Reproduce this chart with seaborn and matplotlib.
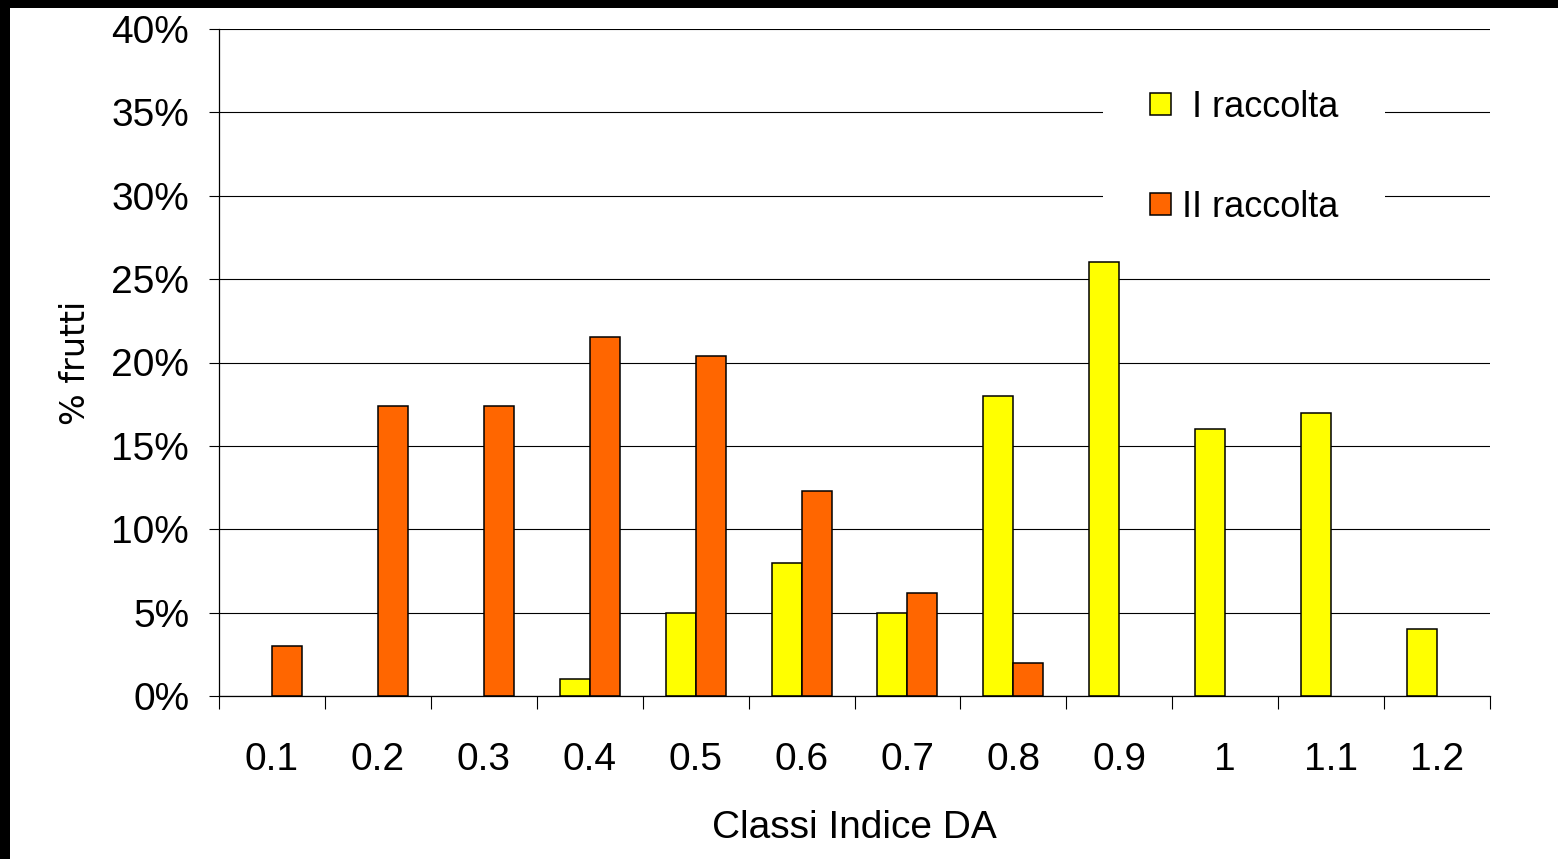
import numpy as np
import pandas as pd
import matplotlib
matplotlib.use("Agg")
import matplotlib.pyplot as plt
from matplotlib.patches import Rectangle
from matplotlib.ticker import FixedLocator, FuncFormatter
import seaborn as sns

# Classes of the DA index and share of fruits (%) per harvest (NaN = no fruits in class)
classes = ["0.1", "0.2", "0.3", "0.4", "0.5", "0.6", "0.7", "0.8", "0.9", "1", "1.1", "1.2"]
raccolta_1 = [np.nan, np.nan, np.nan, 1, 5, 8, 5, 18, 26, 16, 17, 4]
raccolta_2 = [3, 17.4, 17.4, 21.5, 20.4, 12.3, 6.2, 2, np.nan, np.nan, np.nan, np.nan]
series_names = ["I raccolta", "II raccolta"]
legend_labels = [" I raccolta", "II raccolta"]
series_colors = ["#FFFF00", "#FF6600"]
y_ticks = [0, 5, 10, 15, 20, 25, 30, 35, 40]

df = pd.DataFrame({
    "classe": classes * 2,
    "serie": [series_names[0]] * len(classes) + [series_names[1]] * len(classes),
    "valore": raccolta_1 + raccolta_2,
})

sns.set_theme(style="white")
plt.rcParams["font.family"] = ["Liberation Sans", "DejaVu Sans"]
plt.rcParams.update({
    "text.color": "black",
    "axes.labelcolor": "black",
    "xtick.color": "black",
    "ytick.color": "black",
})

fig = plt.figure(figsize=(15.58, 8.59), dpi=100)
ax = fig.add_axes([219 / 1558, 1 - 696 / 859, (1490 - 219) / 1558, (696 - 29) / 859])

sns.barplot(
    data=df, x="classe", y="valore", hue="serie", order=classes,
    hue_order=series_names, palette=series_colors, width=0.566,
    edgecolor="black", linewidth=1.1, saturation=1, ax=ax, legend=True,
)
for bar in ax.patches:
    bar.set_zorder(2)

ax.set_xlim(-0.5, len(classes) - 0.5)
ax.set_ylim(0, 40)
ax.set_axisbelow(True)

# horizontal grid
ax.yaxis.set_major_locator(FixedLocator(y_ticks))
ax.yaxis.set_major_formatter(FuncFormatter(lambda v, p: f"{v:.0f}%"))
ax.grid(axis="y", color="black", linewidth=0.8)
ax.grid(axis="x", visible=False)
ax.tick_params(axis="y", which="major", left=True, length=7.5, width=0.8,
               color="black", labelcolor="black", labelsize=28, pad=14)

# category boundaries as ticks, labels centred on the categories
centers = np.arange(len(classes))
ax.xaxis.set_major_locator(FixedLocator(np.arange(len(classes) + 1) - 0.5))
ax.xaxis.set_minor_locator(FixedLocator(centers))
ax.set_xticklabels([], minor=False)
ax.set_xticklabels(classes, minor=True)
ax.tick_params(axis="x", which="major", bottom=True, length=9, width=0.8, color="black")
ax.tick_params(axis="x", which="minor", bottom=True, length=0, labelsize=28,
               labelcolor="black", pad=33)

for side in ["top", "right"]:
    ax.spines[side].set_visible(False)
for side in ["left", "bottom"]:
    ax.spines[side].set_color("black")
    ax.spines[side].set_linewidth(0.9)

ax.set_xlabel("Classi Indice DA", fontsize=28, labelpad=23, color="black")
ax.set_ylabel("% frutti", fontsize=24, family=["DejaVu Sans"], labelpad=14, color="black")

# legend box hides the grid lines but sits behind the bars
handles, labels = ax.get_legend_handles_labels()
leg = ax.legend(
    handles, legend_labels, loc="center",
    bbox_to_anchor=(0.8065, 0.808), fontsize=26, frameon=True,
    fancybox=False, borderpad=1.3, labelspacing=1.8, handlelength=0.58,
    handleheight=0.58, handletextpad=0.3, labelcolor="black",
)
leg.get_frame().set_facecolor("white")
leg.get_frame().set_edgecolor("none")
leg.get_frame().set_alpha(1)
leg.set_zorder(1)

# dark border strips along the top and left edges
fig.patches.append(Rectangle((0, 1 - 8 / 859), 1, 8 / 859, transform=fig.transFigure,
                             facecolor="black", edgecolor="none", zorder=10))
fig.patches.append(Rectangle((0, 0), 10 / 1558, 1, transform=fig.transFigure,
                             facecolor="black", edgecolor="none", zorder=10))

fig.savefig("out.png", dpi=100, facecolor="white")
